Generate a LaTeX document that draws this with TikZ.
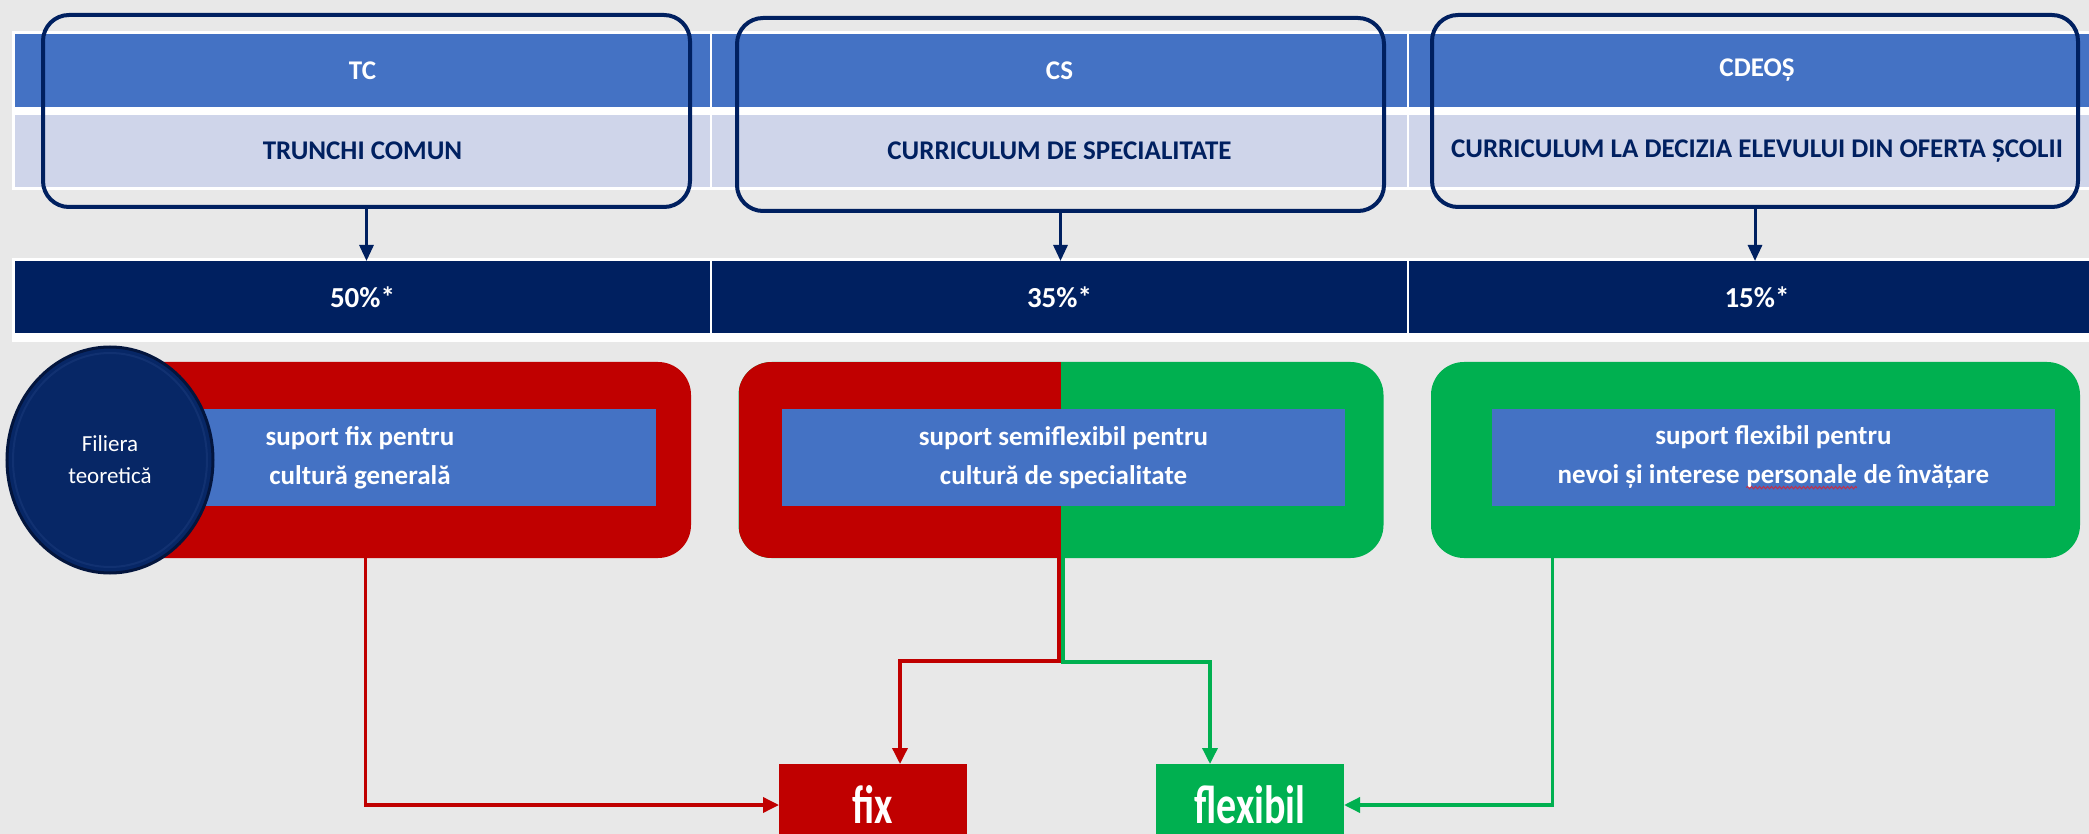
\documentclass[tikz,border=0pt]{standalone}
\usepackage{fontspec}
\usepackage{graphicx}
\setmainfont{Carlito}
\usetikzlibrary{arrows.meta,decorations.pathmorphing,shapes.geometric}
\definecolor{bg}{HTML}{E8E8E8}
\definecolor{hblue}{HTML}{4472C4}
\definecolor{hlight}{HTML}{CFD5EA}
\definecolor{navy}{HTML}{002060}
\definecolor{fred}{HTML}{C00000}
\definecolor{fgreen}{HTML}{00B050}
\definecolor{ballc}{HTML}{072766}
\definecolor{ballrim}{HTML}{03153D}
\definecolor{ballhi}{HTML}{2A4A8C}
\definecolor{squigc}{HTML}{C0304A}
\newcommand\fsz[2]{\fontsize{#1pt}{#2pt}\selectfont}
\newcommand\squig[1]{\tikz[baseline=(sq.base)]{\node[inner sep=0pt,outer sep=0pt,draw=none,fill=none](sq){#1};\draw[draw=squigc,line width=1pt,decorate,decoration={snake,amplitude=1.2pt,segment length=4pt}]([yshift=-4pt]sq.base west)--([yshift=-4pt]sq.base east);}}
\begin{document}
\begin{tikzpicture}[x=1pt,y=-1pt,
 tcell/.style={rectangle,inner sep=0pt,outer sep=0pt,minimum height=72pt},
 hcell/.style={tcell,fill=hblue,minimum height=73pt,text=white,font=\bfseries\fsz{27}{32}},
 lcell/.style={tcell,fill=hlight,text=navy,font=\bfseries\fsz{27}{32}},
 pcell/.style={tcell,fill=navy,text=white,font=\bfseries\fsz{29}{34}},
 outl/.style={rectangle,rounded corners=26pt,draw=navy,line width=4pt,inner sep=0pt,outer sep=0pt},
 cbox/.style={rectangle,rounded corners=33pt,inner sep=0pt,outer sep=0pt,minimum height=196pt},
 ibox/.style={rectangle,fill=hblue,inner sep=0pt,minimum height=97pt},
 itext/.style={text=white,align=center,inner sep=0pt,font=\bfseries\fsz{27}{39}},
 navarrow/.style={draw=navy,line width=3pt,-{Triangle[length=16pt,width=14pt]}},
 rline/.style={draw=fred,line width=3.5pt,-{Triangle[length=16pt,width=15pt]}},
 gline/.style={draw=fgreen,line width=3.5pt,-{Triangle[length=16pt,width=15pt]}},
 botbox/.style={rectangle,inner sep=0pt,outer sep=0pt,minimum width=188pt,minimum height=82pt,text=white,font=\bfseries\fsz{40}{46}}
]
\useasboundingbox (0,0) rectangle (2089,834);
\clip (0,0) rectangle (2089,834);
\fill[bg] (0,0) rectangle (2089,834);

% header table
\fill[white] (12,31) rectangle (2089,190);
\node[hcell,minimum width=695pt] (hTC) at (362.5,70.5) {TC};
\node[hcell,minimum width=695pt] (hCS) at (1059.5,70.5) {CS};
\node[hcell,minimum width=696pt] (hCD) at (1757,70.5) {CDEOȘ};
\node[lcell,minimum width=695pt] (lTC) at (362.5,151) {TRUNCHI COMUN};
\node[lcell,minimum width=695pt] (lCS) at (1059.5,151) {CURRICULUM DE SPECIALITATE};
\node[lcell,minimum width=696pt] (lCD) at (1757,151) {CURRICULUM LA DECIZIA ELEVULUI DIN OFERTA ȘCOLII};

% percent table
\fill[white] (12,258) rectangle (2089,342);
\node[pcell,minimum width=695pt] (pTC) at (362.5,297) {50\%*};
\node[pcell,minimum width=695pt] (pCS) at (1059.5,297) {35\%*};
\node[pcell,minimum width=696pt] (pCD) at (1757,297) {15\%*};

% outlines
\node[outl,minimum width=647pt,minimum height=192pt] (oTC) at (366.5,111) {};
\node[outl,minimum width=647pt,minimum height=193pt] (oCS) at (1060.5,114.5) {};
\node[outl,minimum width=646pt,minimum height=192pt] (oCD) at (1755,111) {};

\draw[navarrow] (oTC.south) -- (oTC.south |- pTC.north);
\draw[navarrow] (oCS.south) -- (oCS.south |- pCS.north);
\draw[navarrow] (oCD.south) -- (oCD.south |- pCD.north);

% coloured boxes
\node[cbox,fill=fred,minimum width=651pt] (bx1) at (365.5,460) {};
\node[cbox,fill=fgreen,minimum width=645pt] (bx2) at (1061,460) {};
\begin{scope}
  \clip[rounded corners=33pt] (bx2.north west) rectangle (bx2.south east);
  \fill[fred] (bx2.north west) rectangle (bx2.south);
\end{scope}
\node[cbox,fill=fgreen,minimum width=649pt] (bx3) at (1755.5,460) {};

\node[ibox,minimum width=592pt] (ib1) at (360,457.5) {};
\node[ibox,minimum width=563pt] (ib2) at (1063.5,457.5) {};
\node[ibox,minimum width=563pt] (ib3) at (1773.5,457.5) {};

\node[itext] (t1) at (ib1.center) {suport fix pentru\\cultură generală};
\node[itext] (t2) at (ib2.center) {suport semiflexibil pentru\\cultură de specialitate};
\node[itext] (t3) at (ib3.center) {suport flexibil pentru\\nevoi și interese \squig{personale} de învățare};

% ball
\node[ellipse,fill=ballc,draw=ballrim,line width=3pt,minimum width=206pt,minimum height=226pt,
  inner sep=0pt] (ball) at (110,460) {};
\draw[draw=ballhi,line width=2pt,opacity=0.3] (ball.center) ellipse [x radius=97pt,y radius=107pt];
\node[text=white,align=center,inner sep=0pt,font=\fsz{23}{32}] (balltext) at (ball.center) {Filiera\\teoretică};

% bottom boxes
\node[botbox,fill=fred] (fix) at (873,805) {\scalebox{1}[1.35]{fix}};
\node[botbox,fill=fgreen] (flex) at (1250,805) {\scalebox{1}[1.35]{flexibil}};

% connectors
\draw[rline] (bx1.south) |- (fix.west);
\draw[rline] ([xshift=-2pt]bx2.south) -- ++(0,103) -| ([xshift=27pt]fix.north);
\draw[gline] ([xshift=2pt]bx2.south) -- ++(0,104) -| ([xshift=-40pt]flex.north);
\draw[gline] ([xshift=-203pt]bx3.south) |- (flex.east);
\end{tikzpicture}
\end{document}
